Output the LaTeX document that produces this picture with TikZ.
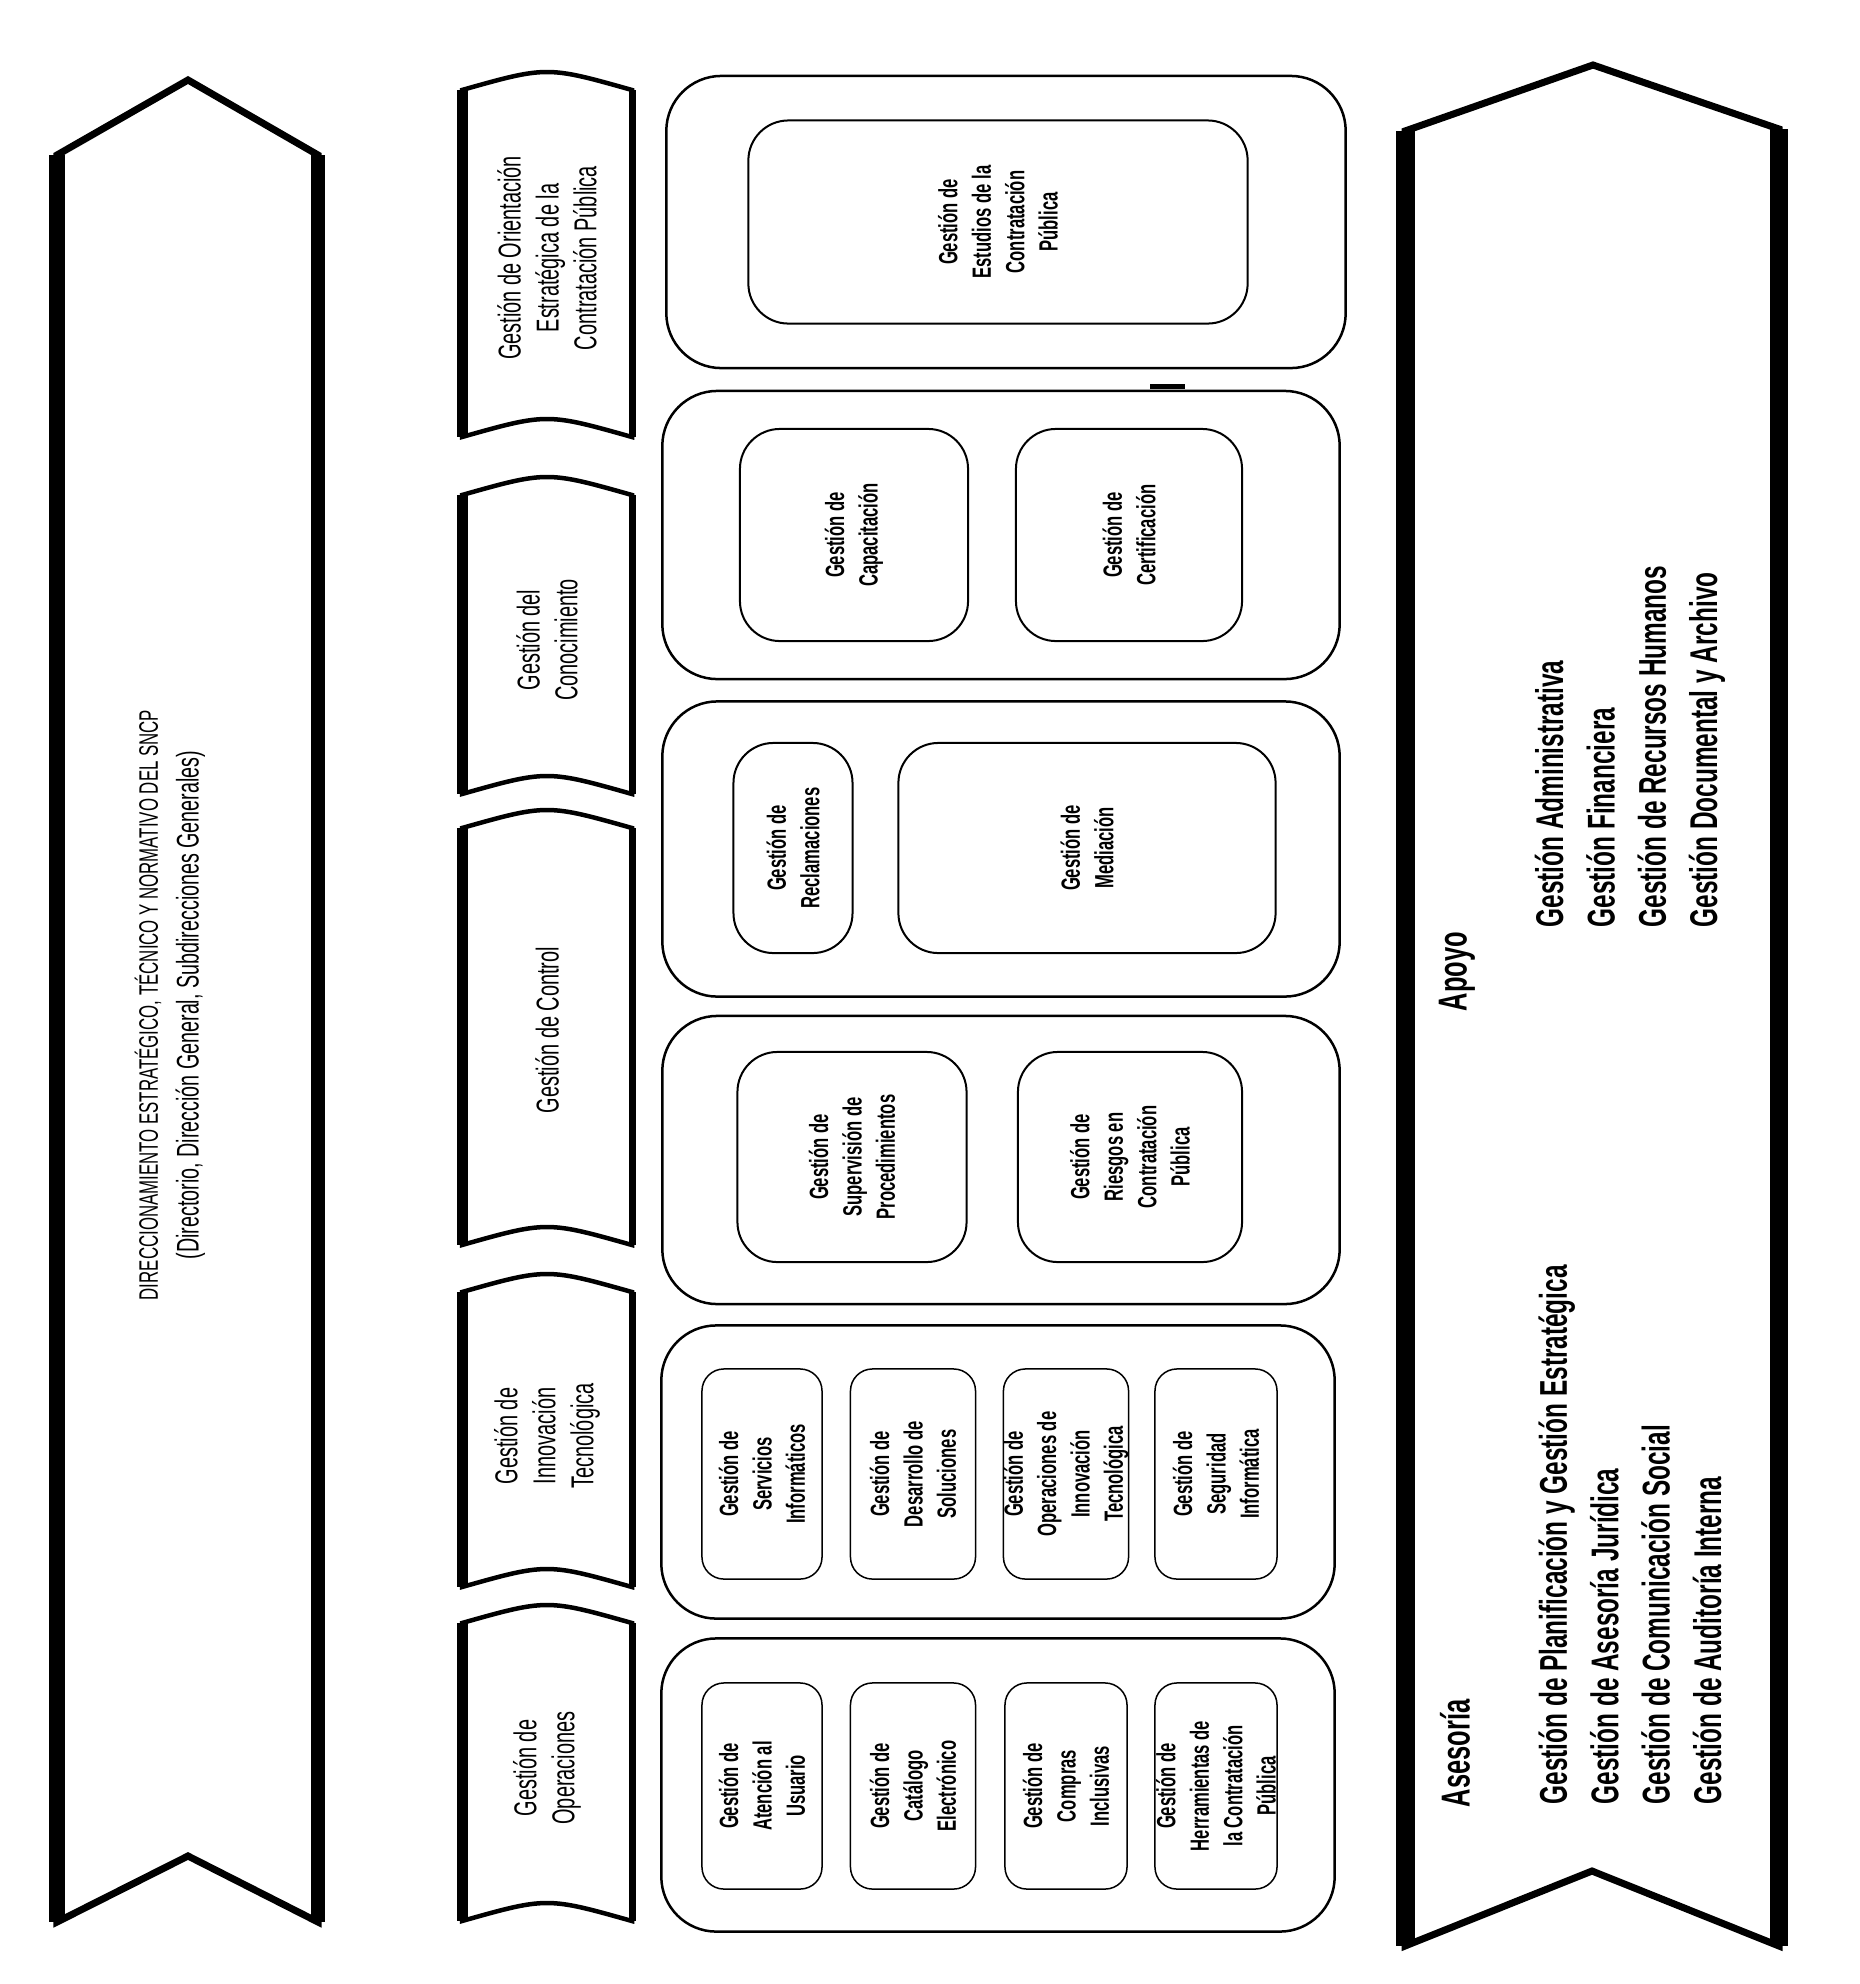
\documentclass[tikz,border=0pt]{standalone}
\usepackage{fontspec}
\setmainfont{Liberation Sans}[FakeStretch=0.63]

\begin{document}
\begin{tikzpicture}[x=0.01cm, y=-0.01cm,
    chevron/.style={line width=0.7mm, line join=miter},
    tabline/.style={line width=0.45mm},
    group/.style={draw, rounded corners=5.5mm, line width=0.25mm, inner sep=0pt},
    unit/.style={draw, rounded corners=4mm, line width=0.2mm, rotate=90, align=center, inner sep=0pt, font=\bfseries\fontsize{7.5}{9.5}\selectfont},
    smallunit/.style={unit, rounded corners=2.2mm, line width=0.15mm},
    tablabel/.style={rotate=90, align=center, font=\fontsize{9}{10.8}\selectfont},
    sidelabel/.style={rotate=90, anchor=west, align=left, inner sep=0pt, font=\bfseries\fontsize{11}{14.6}\selectfont}]
            \useasboundingbox (0,0) rectangle (1860,1984);

            % strategic direction chevron
            \draw[chevron] (57,155) -- (188,80) -- (318,155) -- (318,1922) -- (188,1856) -- (57,1922) -- cycle;
            \draw[line width=1.6mm] (57,155) -- (57,1922);
            \draw[line width=1.3mm] (318,155) -- (318,1922);
            \node[rotate=90, align=center, font=\fontsize{7.6}{11.6}\selectfont] (direccion) at (170,1005) {DIRECCIONAMIENTO ESTRATÉGICO, TÉCNICO Y NORMATIVO DEL SNCP\\{\fontsize{8.9}{11.6}\selectfont (Directorio, Dirección General, Subdirecciones Generales)}};

            % process tabs
            \draw[tabline] (462,90) .. controls (547,66) .. (632,90) -- (632,437) .. controls (547,413) .. (462,437) -- cycle;
            \draw[line width=1.1mm] (462,90) -- (462,437);
            \draw[line width=0.7mm] (632,90) -- (632,437);
            \draw[tabline] (462,495) .. controls (547,471) .. (632,495) -- (632,794) .. controls (547,770) .. (462,794) -- cycle;
            \draw[line width=1.1mm] (462,495) -- (462,794);
            \draw[line width=0.7mm] (632,495) -- (632,794);
            \draw[tabline] (462,828) .. controls (547,804) .. (632,828) -- (632,1245) .. controls (547,1221) .. (462,1245) -- cycle;
            \draw[line width=1.1mm] (462,828) -- (462,1245);
            \draw[line width=0.7mm] (632,828) -- (632,1245);
            \draw[tabline] (462,1292) .. controls (547,1268) .. (632,1292) -- (632,1587) .. controls (547,1563) .. (462,1587) -- cycle;
            \draw[line width=1.1mm] (462,1292) -- (462,1587);
            \draw[line width=0.7mm] (632,1292) -- (632,1587);
            \draw[tabline] (462,1623) .. controls (547,1599) .. (632,1623) -- (632,1921) .. controls (547,1897) .. (462,1921) -- cycle;
            \draw[line width=1.1mm] (462,1623) -- (462,1921);
            \draw[line width=0.7mm] (632,1623) -- (632,1921);

            \node[tablabel] (orientacion) at (547,258) {Gestión de Orientación\\Estratégica de la\\Contratación Pública};
            \node[tablabel] (conocimiento) at (547,640) {Gestión del\\Conocimiento};
            \node[tablabel] (control) at (547,1030) {Gestión de Control};
            \node[tablabel] (innovacion) at (547,1436) {Gestión de\\Innovación\\Tecnológica};
            \node[tablabel] (operaciones) at (547,1768) {Gestión de\\Operaciones};

            % process groups
            \node[group, minimum width=6.79cm, minimum height=2.92cm] (estudiosgrp) at (1006,222) {};
            \node[unit, minimum width=2.03cm, minimum height=4.99cm] (estudios) at (998,222) {Gestión de\\Estudios de la\\Contratación\\Pública};

            \node[group, minimum width=6.77cm, minimum height=2.88cm] (conocgrp) at (1001,535) {};
            \node[unit, minimum width=2.12cm, minimum height=2.28cm] (capacitacion) at (854,535) {Gestión de\\Capacitación};
            \node[unit, minimum width=2.12cm, minimum height=2.26cm] (certificacion) at (1129,535) {Gestión de\\Certificación};
            \draw[line width=0.5mm] (1150,386) -- (1185,386);

            \node[group, minimum width=6.77cm, minimum height=2.95cm] (reclamogrp) at (1001,849) {};
            \node[unit, minimum width=2.10cm, minimum height=1.19cm] (reclamos) at (793,848) {Gestión de\\Reclamaciones};
            \node[unit, minimum width=2.10cm, minimum height=3.77cm] (mediacion) at (1087,848) {Gestión de\\Mediación};

            \node[group, minimum width=6.77cm, minimum height=2.88cm] (supervgrp) at (1001,1160) {};
            \node[unit, minimum width=2.10cm, minimum height=2.29cm] (supervision) at (852,1157) {Gestión de\\Supervisión de\\Procedimientos};
            \node[unit, minimum width=2.10cm, minimum height=2.24cm] (riesgos) at (1130,1157) {Gestión de\\Riesgos en\\Contratación\\Pública};

            \node[group, minimum width=6.73cm, minimum height=2.93cm] (tecnogrp) at (998,1472) {};
            \node[smallunit, minimum width=2.10cm, minimum height=1.20cm] (servicios) at (762,1474) {Gestión de\\Servicios\\Informáticos};
            \node[smallunit, minimum width=2.10cm, minimum height=1.25cm] (desarrollo) at (913,1474) {Gestión de\\Desarrollo de\\Soluciones};
            \node[smallunit, minimum width=2.10cm, minimum height=1.22cm] (opinnova) at (1066,1474) {Gestión de\\Operaciones de\\Innovación\\Tecnológica};
            \node[smallunit, minimum width=2.10cm, minimum height=1.22cm] (seguridad) at (1216,1474) {Gestión de\\Seguridad\\Informática};

            \node[group, minimum width=6.73cm, minimum height=2.93cm] (opergrp) at (998,1785) {};
            \node[smallunit, minimum width=2.06cm, minimum height=1.20cm] (atencion) at (762,1786) {Gestión de\\Atención al\\Usuario};
            \node[smallunit, minimum width=2.06cm, minimum height=1.25cm] (catalogo) at (913,1786) {Gestión de\\Catálogo\\Electrónico};
            \node[smallunit, minimum width=2.06cm, minimum height=1.22cm] (compras) at (1066,1786) {Gestión de\\Compras\\Inclusivas};
            \node[smallunit, minimum width=2.06cm, minimum height=1.22cm] (herramientas) at (1216,1786) {Gestión de\\Herramientas de\\la Contratación\\Pública};

            % advisory and support chevron
            \draw[chevron] (1405,131) -- (1593,65) -- (1779,129) -- (1779,1946) -- (1592,1871) -- (1405,1946) -- cycle;
            \draw[line width=1.9mm] (1405,131) -- (1405,1946);
            \draw[line width=1.8mm] (1779,129) -- (1779,1946);

            \node[sidelabel, font=\bfseries\fontsize{11.5}{14}\selectfont] (asesoria) at (1455,1808) {Asesoría};
            \node[sidelabel] (asesorialist) at (1630,1805) {Gestión de Planificación y Gestión Estratégica\\Gestión de Asesoría Jurídica\\Gestión de Comunicación Social\\Gestión de Auditoría Interna};
            \node[sidelabel, font=\bfseries\fontsize{11.5}{14}\selectfont] (apoyo) at (1457,1012) {Apoyo};
            \node[sidelabel] (apoyolist) at (1630,928) {Gestión Administrativa\\Gestión Financiera\\Gestión de Recursos Humanos\\Gestión Documental y Archivo};
        \end{tikzpicture}
\end{document}
